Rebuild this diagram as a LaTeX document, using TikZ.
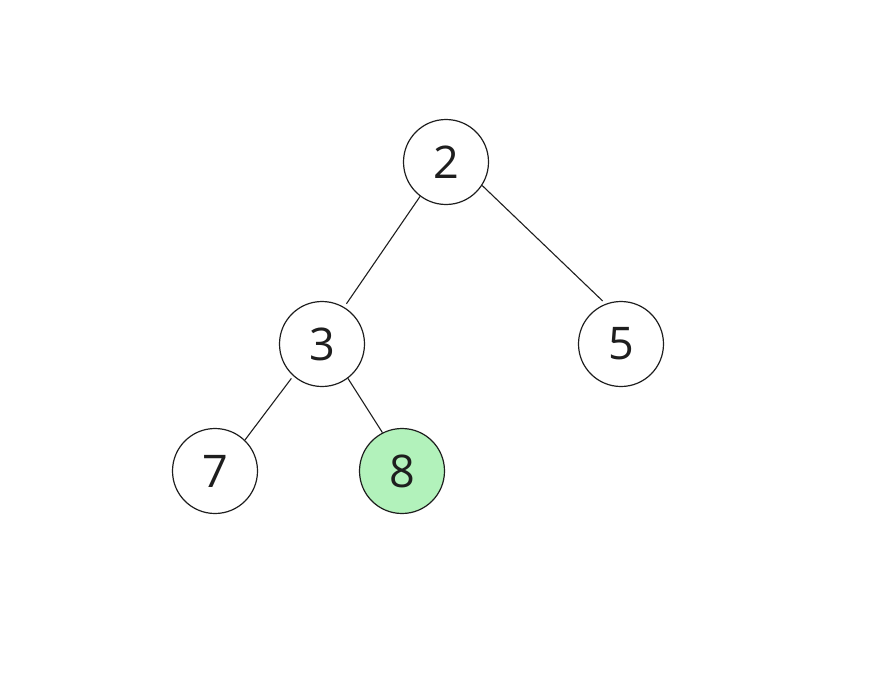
\documentclass[tikz,border=0pt]{standalone}
\usepackage{fontspec}
\setmainfont{Open Sans}
\definecolor{ink}{HTML}{1E1E1E}
\definecolor{hilite}{HTML}{B2F2BB}

\begin{document}
\begin{tikzpicture}[x=1pt,y=-1pt,
  every node/.style={font=\fontsize{45}{45}\selectfont},
  key/.style={circle,draw=ink,line width=1.2pt,minimum size=85pt,inner sep=0pt,text=ink},
  link/.style={draw=ink,line width=1.1pt}]
  \useasboundingbox (0,0) rectangle (875,685);
  \node[key] (n2) at (446,162) {2};
  \node[key] (n3) at (322,344) {3};
  \node[key] (n5) at (621,344) {5};
  \node[key] (n7) at (215,471) {7};
  \node[key,fill=hilite] (n8) at (402,471) {8};
  \draw[link,shorten >=4pt] (n2.-127) -- (n3.59);
  \draw[link,shorten >=4pt] (n2.-33) -- (n5.111);
  \draw[link,shorten <=3pt] (n3.-132) -- (n7.46);
  \draw[link] (n3.-53) -- (n8.117);
\end{tikzpicture}
\end{document}
